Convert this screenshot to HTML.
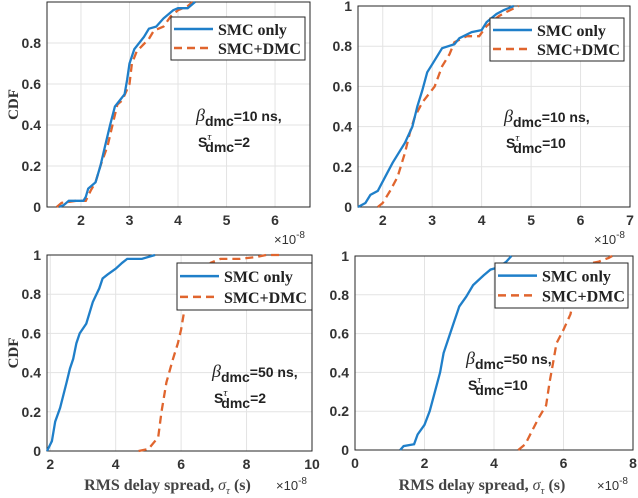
<!DOCTYPE html>
<html><head><meta charset="utf-8"><style>
body{margin:0;background:#fff;}
svg{display:block;font-family:"Liberation Sans",sans-serif;}
</style></head><body>
<svg id="c" width="638" height="498"></svg>
<script>
// panel data (x in units of 1e-8 s, y = CDF)
const tlSmcX=[1.55,1.65,1.75,2.05,2.1,2.15,2.3,2.4,2.5,2.6,2.7,2.8,2.9,2.95,3.0,3.1,3.3,3.4,3.55,3.7,3.9,4.0,4.2,4.35];
const tlSmcY=[0,0.01,0.03,0.03,0.05,0.09,0.12,0.2,0.3,0.4,0.49,0.52,0.55,0.62,0.7,0.77,0.83,0.87,0.88,0.92,0.96,0.97,0.97,1];
const tlDmcX=[1.5,1.6,1.9,2.1,2.2,2.3,2.4,2.55,2.65,2.75,2.85,3.0,3.05,3.15,3.4,3.5,3.7,3.85,4.0,4.2,4.3];
const tlDmcY=[0,0.02,0.03,0.03,0.08,0.12,0.2,0.3,0.4,0.5,0.52,0.6,0.7,0.76,0.82,0.86,0.88,0.93,0.96,0.98,1];
const trSmcX=[1.5,1.65,1.75,1.9,2.05,2.2,2.3,2.45,2.6,2.7,2.8,2.9,3.0,3.2,3.45,3.55,3.8,4.0,4.1,4.3,4.45,4.65];
const trSmcY=[0,0.02,0.06,0.08,0.15,0.22,0.26,0.32,0.4,0.5,0.58,0.67,0.71,0.79,0.81,0.84,0.87,0.88,0.92,0.96,0.98,1];
const trDmcX=[1.9,2.0,2.15,2.3,2.45,2.55,2.65,2.8,3.05,3.2,3.35,3.45,3.7,3.95,4.1,4.35,4.5,4.75];
const trDmcY=[0,0.02,0.08,0.15,0.27,0.37,0.45,0.52,0.6,0.7,0.76,0.82,0.85,0.85,0.9,0.95,0.97,1];
const blSmcX=[1.9,2.05,2.15,2.3,2.5,2.6,2.7,2.8,2.9,3.1,3.3,3.5,3.6,3.75,4.0,4.2,4.35,4.8,5.2];
const blSmcY=[0,0.05,0.15,0.22,0.35,0.42,0.47,0.55,0.6,0.65,0.76,0.83,0.88,0.9,0.93,0.96,0.98,0.98,1];
const blDmcX=[4.7,5.0,5.3,5.4,5.55,5.75,5.9,6.0,6.1,6.3,6.6,6.9,7.2,7.8,8.3,8.6,9.0];
const blDmcY=[0,0.01,0.07,0.2,0.35,0.47,0.55,0.62,0.72,0.74,0.9,0.96,0.98,0.98,0.99,1,1];
const brSmcX=[1.3,1.4,1.7,1.8,2.0,2.15,2.3,2.45,2.55,2.7,2.85,3.0,3.2,3.4,3.7,3.9,4.1,4.35,4.5];
const brSmcY=[0,0.02,0.03,0.08,0.13,0.2,0.3,0.4,0.5,0.58,0.66,0.74,0.79,0.85,0.9,0.93,0.94,0.97,1];
const brDmcX=[4.7,4.9,5.1,5.3,5.5,5.6,5.7,5.8,6.0,6.2,6.4,6.7,7.0,7.3,7.4];
const brDmcY=[0,0.03,0.1,0.17,0.23,0.35,0.45,0.55,0.62,0.7,0.88,0.96,0.97,0.99,1];
const tlTicks=[2,3,4,5,6], trTicks=[2,3,4,5,6,7], blTicks=[2,4,6,8,10], brTicks=[0,2,4,6,8];
const yTicks=[0,0.2,0.4,0.6,0.8,1];

const NS="http://www.w3.org/2000/svg";
const svg=document.getElementById('c');
function el(t,a,p){const e=document.createElementNS(NS,t);for(const k in a)e.setAttribute(k,a[k]);(p||svg).appendChild(e);return e;}

const panels=[
 {n:'top-left',x0:47,x1:310,yT:2,yB:207,xmin:1.3,xmax:6.72,ticks:tlTicks,sx:tlSmcX,sy:tlSmcY,dx:tlDmcX,dy:tlDmcY,leg:[171,17,134,43],ann:[196,121,'10','2'],cdf:true,xl:false,show1:false},
 {n:'top-right',x0:358,x1:630,yT:6,yB:207,xmin:1.5,xmax:7,ticks:trTicks,sx:trSmcX,sy:trSmcY,dx:trDmcX,dy:trDmcY,leg:[490,18,134,43],ann:[504,122,'10','10'],cdf:false,xl:false,show1:true},
 {n:'bottom-left',x0:47,x1:312,yT:255,yB:451,xmin:1.9,xmax:10,ticks:blTicks,sx:blSmcX,sy:blSmcY,dx:blDmcX,dy:blDmcY,leg:[177,263,135,47],ann:[212,377,'50','2'],cdf:true,xl:true,show1:true},
 {n:'bottom-right',x0:355,x1:633,yT:256,yB:450,xmin:0,xmax:8,ticks:brTicks,sx:brSmcX,sy:brSmcY,dx:brDmcX,dy:brDmcY,leg:[495,263,133,45],ann:[466,364,'50','10'],cdf:false,xl:true,show1:true}
];

panels.forEach(p=>{
 const g=el('g',{});
 
 
 const X=v=>p.x0+(v-p.xmin)/(p.xmax-p.xmin)*(p.x1-p.x0);
 const Y=v=>p.yB-v*(p.yB-p.yT);
 p.ticks.forEach(t=>{const l=el('line',{x1:X(t),x2:X(t),y1:p.yT,y2:p.yB,stroke:'#e3e3e3','stroke-width':1},g);
  });
 yTicks.forEach(t=>{const l=el('line',{x1:p.x0,x2:p.x1,y1:Y(t),y2:Y(t),stroke:'#e3e3e3','stroke-width':1},g);
  });
 const box=el('rect',{x:p.x0,y:p.yT,width:p.x1-p.x0,height:p.yB-p.yT,fill:'none',stroke:'#262626','stroke-width':1},g);
 
 p.ticks.forEach(t=>{const tx=el('text',{x:X(t),y:p.yB+18,'text-anchor':'middle','font-size':14,'font-weight':'bold',fill:'#333'},g);tx.textContent=t;
  });
 yTicks.forEach(t=>{if(t===1&&!p.show1)return;const tx=el('text',{x:p.x0-6,y:Y(t)+5,'text-anchor':'end','font-size':14,'font-weight':'bold',fill:'#333'},g);tx.textContent=t;
  });
 const ex=el('text',{x:p.x1-36,y:p.xl?490:p.yB+37,'font-size':13,fill:'#333'},g);
 ex.innerHTML='×10<tspan dy="-6" font-size="10">-8</tspan>';
 
 const mk=(xs,ys,col,dash,name)=>{let d='';xs.forEach((x,i)=>{d+=(i?'L':'M')+X(x).toFixed(1)+' '+Y(ys[i]).toFixed(1);});
  const a={d:d,fill:'none',stroke:col,'stroke-width':2.3};if(dash)a['stroke-dasharray']='8 5';
  const s=el('path',a,g);};
 mk(p.dx,p.dy,'#e0652e',true,'smc-dmc-line');
 mk(p.sx,p.sy,'#1f7fc9',false,'smc-only-line');
 const [lx,ly,lw,lh]=p.leg;
 const lg=el('g',{},g);
 el('rect',{x:lx,y:ly,width:lw,height:lh,fill:'#fff',stroke:'#262626','stroke-width':1},lg);
 el('line',{x1:lx+3,x2:lx+42,y1:ly+lh*0.28,y2:ly+lh*0.28,stroke:'#1f7fc9','stroke-width':2.5},lg);
 el('line',{x1:lx+3,x2:lx+42,y1:ly+lh*0.72,y2:ly+lh*0.72,stroke:'#e0652e','stroke-width':2.5,'stroke-dasharray':'8 5'},lg);
 const t1=el('text',{x:lx+47,y:ly+lh*0.28+6,'font-family':'"Liberation Serif",serif','font-size':16,'font-weight':'bold',fill:'#222'},lg);t1.textContent='SMC only';
 
 const t2=el('text',{x:lx+47,y:ly+lh*0.72+6,'font-family':'"Liberation Serif",serif','font-size':16,'font-weight':'bold',fill:'#222'},lg);t2.textContent='SMC+DMC';
 
 const [ax,ay,b,s]=p.ann;
 const a1=el('text',{x:ax,y:ay,'font-size':14,'font-weight':'bold',fill:'#222'},g);
 a1.innerHTML='<tspan font-family="Liberation Serif,serif" font-style="italic" font-weight="normal" font-size="18">β</tspan><tspan dy="5">dmc</tspan><tspan dy="-5">='+b+' ns,</tspan>';
 
 const a2=el('text',{x:ax+2,y:ay+26,'font-size':14,'font-weight':'bold',fill:'#222'},g);
 a2.innerHTML='S<tspan dy="-7" font-size="11" font-family="Liberation Serif,serif" font-style="italic" font-weight="normal">τ</tspan><tspan dx="-6" dy="12">dmc</tspan><tspan dy="-5">='+s+'</tspan>';
 
 if(p.cdf){const c=el('text',{x:0,y:0,transform:'translate(18,'+((p.yT+p.yB)/2)+') rotate(-90)','text-anchor':'middle','font-family':'"Liberation Serif",serif','font-size':15,'font-weight':'bold',fill:'#333'},g);c.textContent='CDF';
  }
 if(p.xl){const c=el('text',{x:(p.x0+p.x1)/2-12,y:490,'text-anchor':'middle','font-family':'"Liberation Serif",serif','font-size':16,'font-weight':'bold',fill:'#444'},g);
  c.innerHTML='RMS delay spread, <tspan font-style="italic" font-weight="normal">σ</tspan><tspan dy="4" font-size="11" font-style="italic" font-weight="normal">τ</tspan><tspan dy="-4"> (s)</tspan>';
  }
});
</script>
</body></html>
